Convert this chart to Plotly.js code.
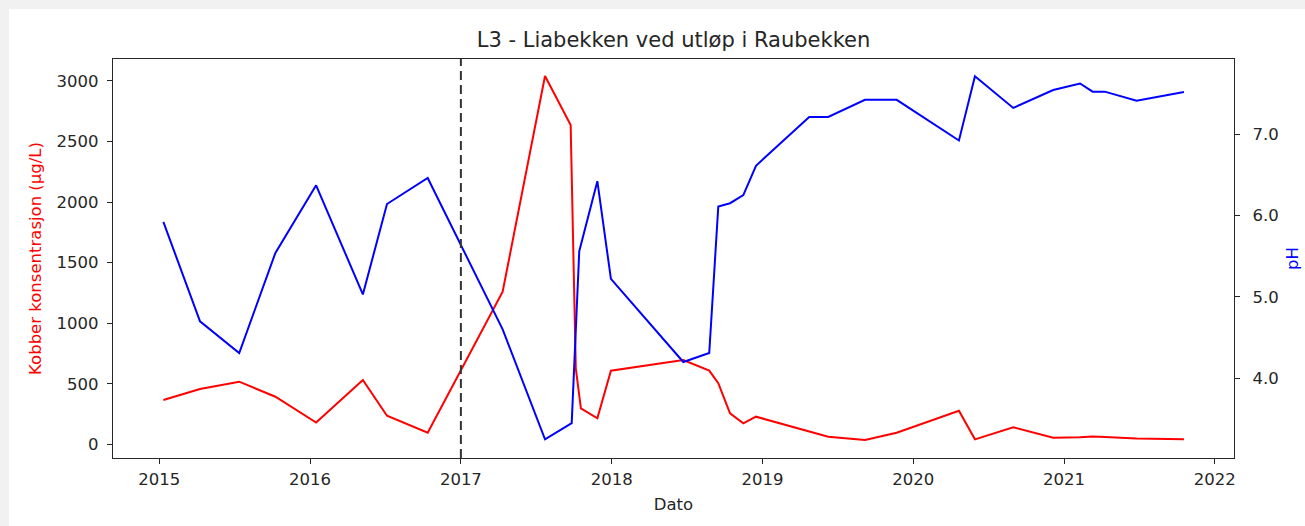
<!DOCTYPE html>
<html>
<head>
<meta charset="utf-8">
<script src="https://cdn.plot.ly/plotly-3.0.1.min.js"></script>
<style>
  html, body { margin: 0; padding: 0; background: #f1f1f1; }
  #chart { position: absolute; left: 9px; top: 9px; width: 1296px; height: 517px; background: #ffffff; }
</style>
</head>
<body>
<div id="chart"></div>
<script>
// Copper concentration (µg/L), decimal years
const copperDates = [2015.027, 2015.27, 2015.53, 2015.77, 2016.04, 2016.35, 2016.51, 2016.78,
  2017.277, 2017.558, 2017.728, 2017.762, 2017.796, 2017.905, 2017.995, 2018.475, 2018.647,
  2018.707, 2018.785, 2018.873, 2018.957, 2019.31, 2019.436, 2019.68, 2019.89, 2020.303,
  2020.409, 2020.663, 2020.928, 2021.106, 2021.19, 2021.27, 2021.481, 2021.795];
const copperValues = [366, 457, 517, 393, 180, 531, 236, 96,
  1260, 3041, 2636, 627, 297, 215, 608, 696, 608,
  504, 256, 173, 228, 107, 63, 36, 96, 277,
  41, 140, 55, 58, 65, 60, 48, 42];

// pH, decimal years
const phDates = [2015.027, 2015.27, 2015.53, 2015.77, 2016.04, 2016.35, 2016.51, 2016.78,
  2017.277, 2017.558, 2017.735, 2017.785, 2017.905, 2017.995, 2018.475, 2018.647,
  2018.707, 2018.785, 2018.873, 2018.957, 2019.31, 2019.436, 2019.68, 2019.89, 2020.303,
  2020.409, 2020.663, 2020.928, 2021.106, 2021.19, 2021.27, 2021.481, 2021.795];
const phValues = [5.92, 4.70, 4.31, 5.54, 6.37, 5.03, 6.14, 6.46,
  4.60, 3.25, 3.45, 5.56, 6.42, 5.22, 4.20, 4.31,
  6.11, 6.15, 6.25, 6.61, 7.21, 7.21, 7.42, 7.42, 6.92,
  7.71, 7.32, 7.54, 7.62, 7.52, 7.52, 7.41, 7.515];

const markerYear = 2017.0;
const xTicks = [2015, 2016, 2017, 2018, 2019, 2020, 2021, 2022];
const copperTicks = [0, 500, 1000, 1500, 2000, 2500, 3000];
const phTicks = [4, 5, 6, 7];

const font = "DejaVu Sans, sans-serif";
const textColor = "#262626";
const tickFont = { family: font, size: 16.5, color: textColor };

const traces = [
  { x: copperDates, y: copperValues, type: "scatter", mode: "lines",
    line: { color: "#ff0000", width: 2 }, yaxis: "y", name: "Kobber", hoverinfo: "x+y" },
  { x: phDates, y: phValues, type: "scatter", mode: "lines",
    line: { color: "#0000ff", width: 2 }, yaxis: "y2", name: "pH", hoverinfo: "x+y" }
];

const layout = {
  width: 1296, height: 517,
  paper_bgcolor: "#ffffff", plot_bgcolor: "#ffffff",
  margin: { l: 104, r: 71, t: 50, b: 68 },
  showlegend: false,
  font: { family: font, color: textColor },
  title: { text: "L3 - Liabekken ved utløp i Raubekken", font: { family: font, size: 21, color: textColor },
           x: 0.5, xref: "paper", y: 1 - 31 / 517, yref: "container", xanchor: "center", yanchor: "middle" },
  xaxis: {
    range: [2014.693, 2022.127], tickvals: xTicks, ticktext: xTicks.map(String),
    showgrid: false, zeroline: false, showline: true, linecolor: textColor, linewidth: 1.3, mirror: true,
    ticks: "outside", ticklen: 5, tickcolor: textColor, tickfont: tickFont, automargin: false,
    ticklabelstandoff: 1,
    title: { text: "Dato", font: { family: font, size: 16.5, color: textColor }, standoff: 10 }
  },
  yaxis: {
    range: [-113, 3181], tickvals: copperTicks, ticktext: copperTicks.map(String),
    showgrid: false, zeroline: false, showline: true, linecolor: textColor, linewidth: 1.3,
    ticks: "outside", ticklen: 5, tickcolor: textColor, tickfont: tickFont, automargin: false,
    ticklabelstandoff: 5,
    title: { text: "Kobber konsentrasjon (µg/L)", font: { family: font, size: 16.5, color: "#ff0000" }, standoff: 10 }
  },
  yaxis2: {
    overlaying: "y", side: "right",
    range: [3.021, 7.921], tickvals: phTicks, ticktext: phTicks.map(v => v.toFixed(1)),
    showgrid: false, zeroline: false, showline: true, linecolor: textColor, linewidth: 1.3,
    ticks: "outside", ticklen: 5, tickcolor: textColor, tickfont: tickFont, automargin: false,
    ticklabelstandoff: 9,
    title: { text: "pH", font: { family: font, size: 16.5, color: "#0000ff" }, standoff: 8 }
  },
  shapes: [
    { type: "line", xref: "x", yref: "paper", x0: markerYear, x1: markerYear, y0: 0, y1: 1,
      line: { color: "#333333", width: 2, dash: "9px,5px" } }
  ]
};

Plotly.newPlot("chart", traces, layout, { displayModeBar: false, staticPlot: true });
</script>
</body>
</html>
